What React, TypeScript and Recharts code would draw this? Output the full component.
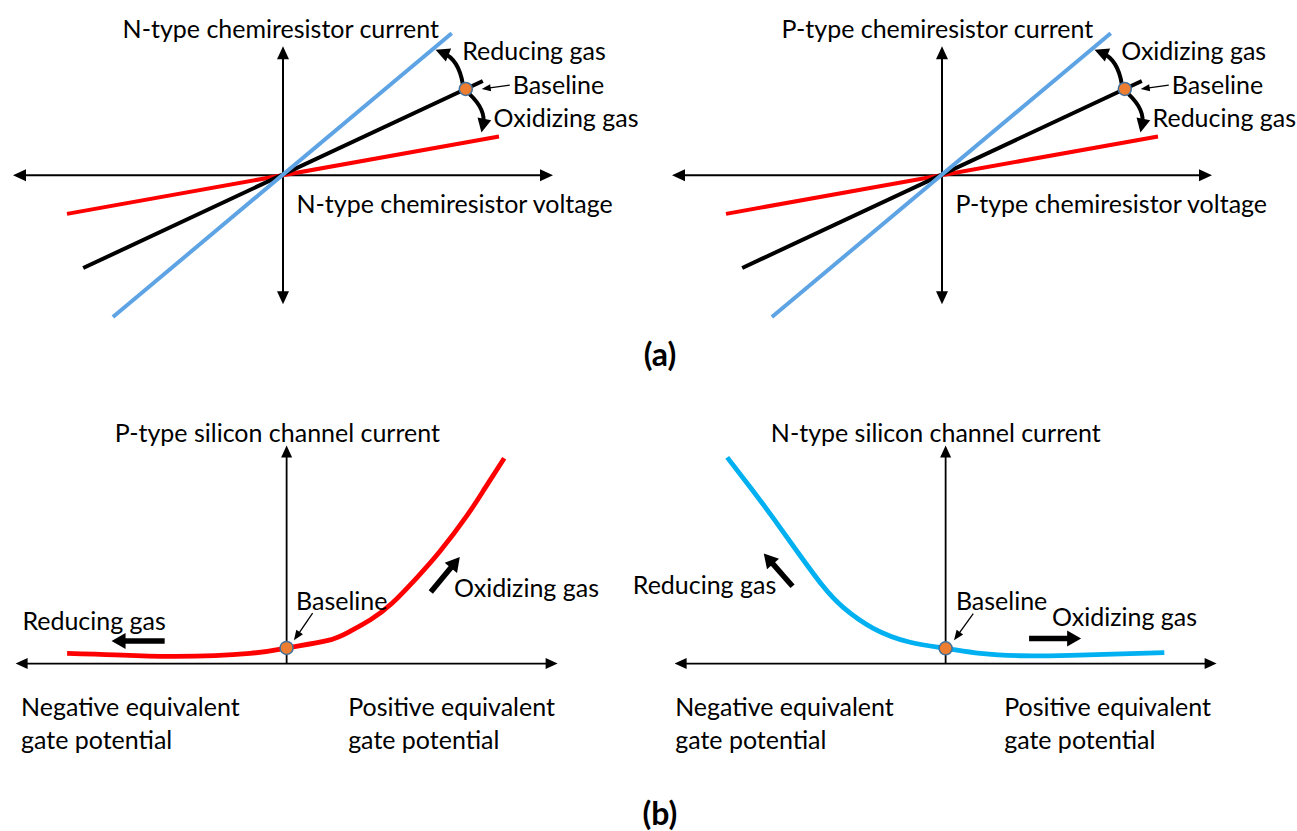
import React from 'react';
import { LineChart, Line, XAxis, YAxis, ReferenceLine, ReferenceDot } from 'recharts';

const FONT = 'Lato, "Open Sans", sans-serif';
const TEXT_SIZE = 25;

// chemiresistor I-V lines, endpoints in axis units (voltage, current)
const baselineV = [-0.74, 0.74];
const baselineI = [-0.72, 0.73];
const steepV = [-0.63, 0.625];
const steepI = [-1.1, 1.1];
const shallowV = [-0.8, 0.8];
const shallowI = [-0.3, 0.3];
const operatingV = 0.677;
const operatingI = 0.668;

// silicon channel current vs. equivalent gate potential
const pGate = [-0.81, -0.633, -0.411, -0.135, 0, 0.149, 0.234, 0.308, 0.389, 0.482, 0.566, 0.666, 0.732, 0.803];
const pCurrent = [0.047, 0.04, 0.033, 0.047, 0.072, 0.105, 0.148, 0.2, 0.277, 0.396, 0.515, 0.68, 0.805, 0.942];
const nGate = [-0.806, -0.721, -0.636, -0.551, -0.455, -0.378, -0.267, -0.131, 0, 0.128, 0.275, 0.46, 0.807];
const nCurrent = [0.946, 0.809, 0.667, 0.52, 0.359, 0.258, 0.162, 0.098, 0.07, 0.047, 0.036, 0.038, 0.05];

const nChemLabels = ['N-type chemiresistor current', 'N-type chemiresistor voltage', 'Reducing gas', 'Oxidizing gas'];
const pChemLabels = ['P-type chemiresistor current', 'P-type chemiresistor voltage', 'Oxidizing gas', 'Reducing gas'];
const gateLabels = ['Negative equivalent', 'gate potential', 'Positive equivalent', 'gate potential'];

const toPoints = (xs: number[], ys: number[]) => xs.map((x, i) => ({ x, y: ys[i] }));

type Box = { ox: number; oy: number; sx: number; sy: number; xd: [number, number]; yd: [number, number] };

const chemBox = (ox: number): Box => ({ ox, oy: 175, sx: 270, sy: 129, xd: [-1.1, 1.4], yd: [-1.35, 1.35] });
const gateBox = (ox: number): Box => ({ ox, oy: 663.3, sx: 271, sy: 218, xd: [-1.22, 1.4], yd: [-0.5, 1.2] });

// triangle with its tip at (tx, ty) pointing along (dx, dy)
const head = (tx: number, ty: number, dx: number, dy: number, len: number, wid: number) => {
  const m = Math.hypot(dx, dy) || 1;
  const ux = dx / m;
  const uy = dy / m;
  const bx = tx - ux * len;
  const by = ty - uy * len;
  return `${tx},${ty} ${bx - (uy * wid) / 2},${by + (ux * wid) / 2} ${bx + (uy * wid) / 2},${by - (ux * wid) / 2}`;
};

const straightArrow = (width: number, len: number, wid: number, both = false) => (p: any) => {
  const { x1, y1, x2, y2 } = p;
  const dx = x2 - x1;
  const dy = y2 - y1;
  const m = Math.hypot(dx, dy) || 1;
  const ux = dx / m;
  const uy = dy / m;
  const cut = len * 0.7;
  return (
    <g>
      <line
        x1={both ? x1 + ux * cut : x1}
        y1={both ? y1 + uy * cut : y1}
        x2={x2 - ux * cut}
        y2={y2 - uy * cut}
        stroke="#000"
        strokeWidth={width}
      />
      <polygon points={head(x2, y2, dx, dy, len, wid)} fill="#000" />
      {both && <polygon points={head(x1, y1, -dx, -dy, len, wid)} fill="#000" />}
    </g>
  );
};

// curved arrow, bowed to one side of the chord
const bentArrow = (bend: number) => (p: any) => {
  const { x1, y1, x2, y2 } = p;
  const dx = x2 - x1;
  const dy = y2 - y1;
  const cx = (x1 + x2) / 2 - bend * dy * 0.28;
  const cy = (y1 + y2) / 2 + bend * dx * 0.28;
  const tx = x2 - cx;
  const ty = y2 - cy;
  const m = Math.hypot(tx, ty) || 1;
  const ex = x2 - (tx / m) * 8;
  const ey = y2 - (ty / m) * 8;
  return (
    <g>
      <path d={`M${x1},${y1} Q${cx},${cy} ${ex},${ey}`} fill="none" stroke="#000" strokeWidth={4} />
      <polygon points={head(x2, y2, tx, ty, 14, 14)} fill="#000" />
    </g>
  );
};

const textAt = (label: string, anchor: 'start' | 'middle' | 'end' = 'start') => (p: any) => (
  <text
    x={p.cx}
    y={p.cy}
    textAnchor={anchor}
    dominantBaseline="central"
    fontFamily={FONT}
    fontSize={TEXT_SIZE}
    fill="#000"
  >
    {label}
  </text>
);

const label = (key: string, x: number, y: number, text: string, anchor: 'start' | 'middle' | 'end' = 'start') => (
  <ReferenceDot key={key} x={x} y={y} r={1} ifOverflow="visible" shape={textAt(text, anchor)} />
);

const arrow = (key: string, from: [number, number], to: [number, number], shape: (p: any) => any) => (
  <ReferenceLine
    key={key}
    segment={[
      { x: from[0], y: from[1] },
      { x: to[0], y: to[1] },
    ]}
    ifOverflow="visible"
    shape={shape}
  />
);

const baselineDot = (key: string, x: number, y: number) => (
  <ReferenceDot key={key} x={x} y={y} r={6.5} fill="#ED7D31" stroke="#41719C" strokeWidth={1.5} ifOverflow="visible" />
);

const Panel = ({ box, children }: { box: Box; children: any[] }) => {
  const [x0, x1] = box.xd;
  const [y0, y1] = box.yd;
  return (
    <div style={{ position: 'absolute', left: box.ox + x0 * box.sx, top: box.oy - y1 * box.sy }}>
      <LineChart
        width={(x1 - x0) * box.sx}
        height={(y1 - y0) * box.sy}
        margin={{ top: 0, right: 0, bottom: 0, left: 0 }}
      >
        <XAxis type="number" dataKey="x" domain={box.xd} hide allowDataOverflow />
        <YAxis type="number" dataKey="y" domain={box.yd} hide allowDataOverflow />
        {children}
      </LineChart>
    </div>
  );
};

const chemChildren = (labels: string[]) => [
  arrow('ax', [-1, 0], [1, 0], straightArrow(2, 13, 12, true)),
  arrow('ay', [0, -1], [0, 1], straightArrow(2, 13, 12, true)),
  <Line key="shallow" data={toPoints(shallowV, shallowI)} dataKey="y" stroke="#FF0000" strokeWidth={4} dot={false} isAnimationActive={false} />,
  <Line key="base" data={toPoints(baselineV, baselineI)} dataKey="y" stroke="#000" strokeWidth={4} dot={false} isAnimationActive={false} />,
  <Line key="steep" data={toPoints(steepV, steepI)} dataKey="y" stroke="#5EA4E4" strokeWidth={4} dot={false} isAnimationActive={false} />,
  arrow('up', [0.666, 0.705], [0.565, 0.972], bentArrow(1)),
  arrow('down', [0.691, 0.628], [0.735, 0.33], bentArrow(-1)),
  arrow('ptr', [0.84, 0.698], [0.736, 0.667], straightArrow(1.3, 9, 7)),
  baselineDot('dot', operatingV, operatingI),
  label('t0', -0.594, 1.137, labels[0]),
  label('t1', 0.05, -0.217, labels[1]),
  label('t2', 0.664, 0.969, labels[2]),
  label('t3', 0.851, 0.705, 'Baseline'),
  label('t4', 0.78, 0.452, labels[3]),
];

const gateAxes = () => [
  arrow('ax', [-1, 0], [1, 0], straightArrow(1.8, 12, 11, true)),
  arrow('ay', [0, 0], [0, 1], straightArrow(1.8, 12, 11)),
];

const gateText = (startNeg: number, startPos: number) => [
  label('g0', startNeg, -0.196, gateLabels[0]),
  label('g1', startNeg, -0.344, gateLabels[1]),
  label('g2', startPos, -0.196, gateLabels[2]),
  label('g3', startPos, -0.344, gateLabels[3]),
];

const pChannel = [
  ...gateAxes(),
  <Line key="p" data={toPoints(pGate, pCurrent)} dataKey="y" type="natural" stroke="#FF0000" strokeWidth={4.8} dot={false} isAnimationActive={false} />,
  arrow('ptr', [0.096, 0.231], [0.027, 0.107], straightArrow(1.3, 10, 8)),
  arrow('red', [-0.45, 0.104], [-0.646, 0.104], straightArrow(5.5, 14, 16)),
  arrow('ox', [0.532, 0.328], [0.639, 0.489], straightArrow(5.5, 14, 16)),
  baselineDot('dot', 0, 0.072),
  label('t0', -0.634, 1.062, 'P-type silicon channel current'),
  label('t1', 0.035, 0.29, 'Baseline'),
  label('t2', -0.975, 0.202, 'Reducing gas'),
  label('t3', 0.618, 0.351, 'Oxidizing gas'),
  ...gateText(-0.98, 0.227),
];

const nChannel = [
  ...gateAxes(),
  <Line key="n" data={toPoints(nGate, nCurrent)} dataKey="y" type="natural" stroke="#00B0F0" strokeWidth={4.8} dot={false} isAnimationActive={false} />,
  arrow('ptr', [0.102, 0.229], [0.031, 0.107], straightArrow(1.3, 10, 8)),
  arrow('ox', [0.308, 0.115], [0.5, 0.115], straightArrow(5.5, 14, 16)),
  arrow('red', [-0.565, 0.355], [-0.671, 0.505], straightArrow(5.5, 14, 16)),
  baselineDot('dot', 0, 0.07),
  label('t0', -0.645, 1.062, 'N-type silicon channel current'),
  label('t1', 0.038, 0.29, 'Baseline'),
  label('t2', 0.393, 0.218, 'Oxidizing gas'),
  label('t3', -0.625, 0.367, 'Reducing gas', 'end'),
  ...gateText(-0.998, 0.216),
];

const caption = (text: string, center: number) => (
  <div
    style={{
      position: 'absolute',
      left: 0,
      width: 1320,
      top: center - 15,
      textAlign: 'center',
      fontFamily: FONT,
      fontWeight: 700,
      fontSize: 32,
      lineHeight: '30px',
    }}
  >
    {text}
  </div>
);

export default function App() {
  return (
    <div style={{ position: 'absolute', left: 0, top: 0, width: 1297, height: 831, overflow: 'hidden', background: '#fff' }}>
      <Panel box={chemBox(283.3)}>{chemChildren(nChemLabels)}</Panel>
      <Panel box={chemBox(942.3)}>{chemChildren(pChemLabels)}</Panel>
      <Panel box={gateBox(286.5)}>{pChannel}</Panel>
      <Panel box={gateBox(945.4)}>{nChannel}</Panel>
      {caption('(a)', 354)}
      {caption('(b)', 813)}
    </div>
  );
}
